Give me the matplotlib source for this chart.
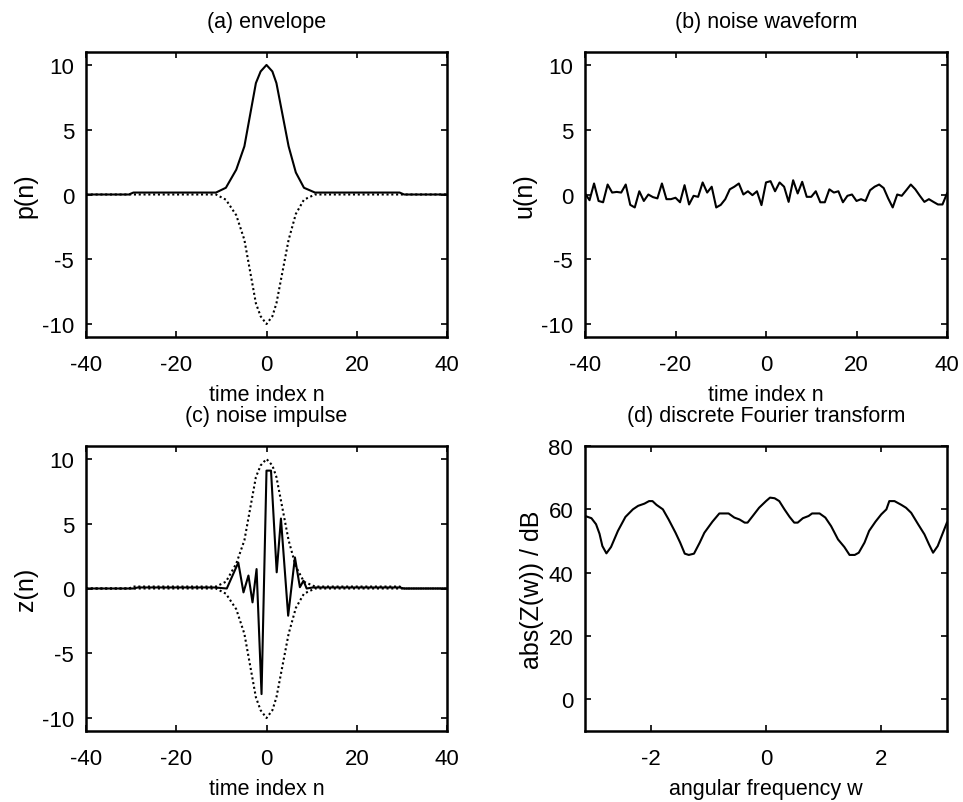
import numpy as np
from matplotlib import pyplot as plt

# (a) envelope p(n)
env_n = [-40, -30.5, -29.5, -11.2, -9.0, -6.7, -4.9, -2.35, -1.3, 0, 1.3, 2.2, 4.9, 6.5, 8.3, 10.75, 29.5, 30.5, 40]
env_up = [0, 0, 0.15, 0.15, 0.52, 1.92, 3.72, 8.6, 9.5, 10, 9.5, 8.6, 3.72, 1.7, 0.52, 0.15, 0.15, 0, 0]
env_lo = [0, 0, 0, 0, -0.4, -1.6, -3.5, -8.4, -9.4, -10, -9.4, -8.4, -3.5, -1.5, -0.4, 0, 0, 0, 0]

# (b) noise waveform u(n), n = -40..40
noise_n = list(range(-40, 41))
noise_u = [0.08, -0.44, 0.85, -0.5, -0.6, 0.77, 0.15, 0.2, 0.15, 0.77,
           -0.8, -1.0, 0.25, -0.5, 0.0, -0.2, -0.3, 0.85, -0.36, -0.36,
           -0.25, -0.6, 0.72, -0.77, -0.1, -0.18, 0.93, 0.15, 0.6, -1.0,
           -0.8, -0.36, 0.4, 0.6, 0.85, 0.0, 0.25, -0.05, 0.25, -0.82,
           0.93,
           1.03, 0.25, 0.93, 0.6, -0.57, 1.1, 0.08, 0.98, -0.18, -0.18,
           0.25, -0.6, -0.6, 0.4, 0.15, 0.25, -0.6, -0.1, 0.0, -0.5,
           -0.36, -0.5, 0.33, 0.6, 0.77, 0.5, -0.3, -1.0, 0.0, -0.1,
           0.33, 0.77, 0.4, -0.1, -0.57, -0.36, -0.57, -0.77, -0.77, 0.08]

# (c) noise impulse z(n)
imp_n = [-40, -29.5, -28.5, -11.5, -8.8, -6.25, -5.1, -4.0, -3.1, -2.2, -1.1, 0, 1.0,
         2.26, 3.2, 4.8, 6.3, 7.4, 8.2, 8.9, 10.3, 29.5, 30.5, 40]
imp_z = [0, 0, 0.08, 0.08, 0, 2.0, -0.3, 1.0, -1.07, 1.5, -8.15, 9.1, 9.1,
         1.25, 5.4, -2.1, 2.4, 0.1, 0.6, 0, 0.08, 0.08, 0, 0]

# (d) DFT magnitude in dB
dft_w = [-3.14, -3.03, -2.95, -2.89, -2.84, -2.77, -2.69, -2.57, -2.44, -2.31, -2.22, -2.11,
         -2.03, -1.97, -1.90, -1.79, -1.69, -1.57, -1.49, -1.41, -1.34, -1.25, -1.15, -1.07,
         -0.93, -0.81, -0.65, -0.55, -0.46, -0.37, -0.32, -0.23, -0.12, 0.0, 0.07, 0.15,
         0.23, 0.32, 0.41, 0.49, 0.55, 0.64, 0.74, 0.80, 0.93, 1.03, 1.13, 1.25, 1.36,
         1.45, 1.54, 1.61, 1.71, 1.79, 1.90, 2.00, 2.09, 2.14, 2.23, 2.35, 2.43, 2.52,
         2.64, 2.75, 2.83, 2.90, 2.98, 3.14]
dft_db = [57.9, 57.2, 55.3, 52.3, 48.4, 46.1, 48.1, 53.2, 57.6, 60.0, 61.1, 61.8,
          62.6, 62.6, 61.4, 60.0, 56.8, 52.6, 49.5, 46.0, 45.6, 46.0, 49.5, 52.6,
          56.1, 58.7, 58.7, 57.4, 56.8, 55.8, 55.8, 57.9, 60.5, 62.6, 63.7, 63.5,
          62.6, 60.0, 57.6, 55.8, 55.8, 57.2, 57.9, 58.7, 58.7, 57.4, 54.7, 50.5, 48.1,
          45.6, 45.6, 46.3, 49.5, 53.2, 56.1, 58.4, 60.0, 62.6, 62.6, 61.4, 60.5, 58.9,
          55.3, 52.1, 48.9, 46.3, 48.4, 55.8]

plt.rcParams['font.family'] = ['Liberation Sans', 'DejaVu Sans']
plt.rcParams['axes.unicode_minus'] = False
plt.rcParams['font.size'] = 16

fig = plt.figure(figsize=(9.63, 8.03), dpi=100)
W, H = 963, 803
dots = (0, (1, 1.3))
TITLE_FS = 15.5
XLAB_FS = 15.5
YLAB_FS = 18


def make_axes(x0, y_top, w, h):
    ax = fig.add_axes([x0 / W, (H - y_top - h) / H, w / W, h / H])
    for s in ax.spines.values():
        s.set_linewidth(1.8)
    ax.tick_params(direction='in', top=True, right=True, length=4, width=1.2,
                   labelsize=16)
    ax.tick_params(axis='x', pad=12)
    ax.tick_params(axis='y', pad=8.5)
    return ax


ax_a = make_axes(86, 53, 361, 285)
ax_b = make_axes(585, 53, 362, 285)
ax_c = make_axes(86, 447, 361, 285)
ax_d = make_axes(585, 447, 362, 285)

ax_a.plot(env_n, env_up, 'k-', lw=1.5)
ax_a.plot(env_n, env_lo, color='k', ls=dots, lw=1.5)
ax_a.set_title('(a) envelope', pad=18, fontsize=TITLE_FS)
ax_a.set_ylabel('p(n)', labelpad=3, fontsize=YLAB_FS)

ax_b.plot(noise_n, noise_u, 'k-', lw=1.5)
ax_b.set_title('(b) noise waveform', pad=18, fontsize=TITLE_FS)
ax_b.set_ylabel('u(n)', labelpad=3, fontsize=YLAB_FS)

ax_c.plot(env_n, env_up, color='k', ls=dots, lw=1.5)
ax_c.plot(env_n, env_lo, color='k', ls=dots, lw=1.5)
ax_c.plot(imp_n, imp_z, 'k-', lw=1.5)
ax_c.set_title('(c) noise impulse', pad=18, fontsize=TITLE_FS)
ax_c.set_ylabel('z(n)', labelpad=3, fontsize=YLAB_FS)

for ax in (ax_a, ax_b, ax_c):
    ax.set_xlim(-40, 40)
    ax.set_ylim(-11, 11)
    ax.set_xticks([-40, -20, 0, 20, 40])
    ax.set_yticks([-10, -5, 0, 5, 10])
    ax.set_xlabel('time index n', labelpad=7, fontsize=XLAB_FS)

ax_d.plot(dft_w, dft_db, 'k-', lw=1.5)
ax_d.set_xlim(-np.pi, np.pi)
ax_d.set_ylim(-10, 80)
ax_d.set_xticks([-2, 0, 2])
ax_d.set_yticks([0, 20, 40, 60, 80])
ax_d.set_title('(d) discrete Fourier transform', pad=18, fontsize=TITLE_FS)
ax_d.set_xlabel('angular frequency w', labelpad=7, fontsize=XLAB_FS)
ax_d.set_ylabel('abs(Z(w)) / dB', labelpad=3, fontsize=YLAB_FS)

fig.savefig('out.png', dpi=100)
